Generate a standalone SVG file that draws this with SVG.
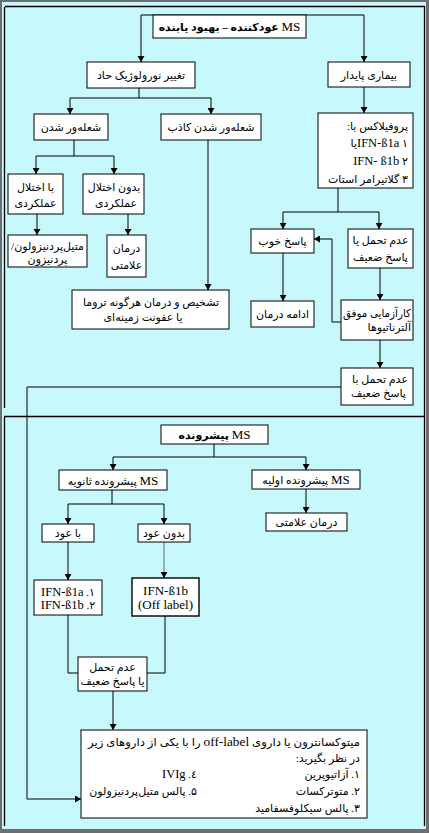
<svg xmlns="http://www.w3.org/2000/svg" width="429" height="833" viewBox="0 0 429 833">
<defs>
<marker id="ah" markerWidth="7" markerHeight="7" refX="6" refY="3.5" orient="auto" markerUnits="userSpaceOnUse">
<path d="M0,0 L6,3.5 L0,7 Z" fill="#000"/>
</marker>
<style>
.frame{fill:none;stroke:#000;stroke-width:1.3}
.box{fill:#fff;stroke:#000;stroke-width:1}
.con{fill:none;stroke:#000;stroke-width:1}
.arr{marker-end:url(#ah)}
text{font-family:"Liberation Serif","DejaVu Sans",serif;font-size:11px;fill:#000;direction:rtl;unicode-bidi:embed}
.c{text-anchor:middle}
.r{text-anchor:start}
.b{font-weight:bold}
.l{font-size:12.5px}
.lt{font-size:13px}
</style>
</defs>
<rect x="0" y="0" width="429" height="833" fill="#6e6e6e"/>
<rect x="2" y="2" width="424" height="827" fill="#c6f8fc"/>
<g id="frame">
<path class="frame" d="M4.5,7 V408 M4.5,417 V826 M5,6.5 H424.5 M424.5,6 V826 M4,416.5 H425"/>
</g>
<g id="connectors">
<path class="con arr" d="M229,15 H141 V62"/>
<path class="con arr" d="M229,15 H364 V62"/>
<path class="con arr" d="M139,88 V98 H70 V114"/>
<path class="con arr" d="M139,98 H211 V114"/>
<path class="con arr" d="M364,87 V113"/>
<path class="con arr" d="M74,140 V156 H36 V174"/>
<path class="con arr" d="M74,156 H114 V174"/>
<path class="con arr" d="M208,140 V290"/>
<path class="con arr" d="M37,214 V235"/>
<path class="con arr" d="M128,214 V235"/>
<path class="con arr" d="M338,188 V212 H283 V229"/>
<path class="con arr" d="M338,212 H379 V229"/>
<path class="con arr" d="M283,253 V301"/>
<path class="con arr" d="M380,268 V300"/>
<path class="con arr" d="M341,322 H332 V239 H314"/>
<path class="con arr" d="M380,340 V368"/>
<path class="con arr" d="M341,387 H27 V799 H81"/>
<path class="con arr" d="M214,444 V457 H113 V470"/>
<path class="con arr" d="M214,457 H306 V470"/>
<path class="con arr" d="M306,489 V513"/>
<path class="con arr" d="M112,490 V504 H68 V524"/>
<path class="con arr" d="M112,504 H164 V524"/>
<path class="con arr" d="M68,542 V580"/>
<path class="con arr" d="M164,542 V578" style="stroke:#666"/>
<path class="con" d="M68,615 V673 H78"/>
<path class="con" d="M165,616 V673 H147"/>
<path class="con arr" d="M113,691 V730"/>
</g>
<g id="n-title"><rect class="box" x="153" y="15" width="153" height="23"/><text class="c b" x="229.5" y="31"><tspan class="lt" font-weight="normal">MS</tspan> عودکننده – بهبود یابنده</text></g>
<g id="n-acute"><rect class="box" x="87" y="62" width="108" height="26"/><text class="c" x="141" y="79">تغییر نورولوژیک حاد</text></g>
<g id="n-stable"><rect class="box" x="328" y="62" width="82" height="25"/><text class="c" x="369" y="79">بیماری پایدار</text></g>
<g id="n-relapse"><rect class="box" x="34" y="114" width="74" height="26"/><text class="c" x="71" y="131">شعله‌ور شدن</text></g>
<g id="n-pseudo"><rect class="box" x="161" y="114" width="100" height="26"/><text class="c" x="211" y="131">شعله‌ور شدن کاذب</text></g>
<g id="n-prophylaxis"><rect class="box" x="318" y="113" width="95" height="75"/>
<text class="r" x="408" y="130">پروفیلاکس با:</text>
<text class="r" x="408" y="147">۱ <tspan class="l">IFN-ß1a</tspan>یا</text>
<text class="r" x="408" y="165">۲ <tspan class="l">IFN- ß1b</tspan></text>
<text class="r" x="408" y="183">۳ گلاتیرامر استات</text></g>
<g id="n-withdef"><rect class="box" x="8" y="174" width="55" height="40"/><text class="c" x="35.5" y="191">با اختلال</text><text class="c" x="35.5" y="207">عملکردی</text></g>
<g id="n-nodef"><rect class="box" x="83" y="174" width="61" height="40"/><text class="c" x="114" y="191">بدون اختلال</text><text class="c" x="116" y="207">عملکردی</text></g>
<g id="n-steroid"><rect class="box" x="8" y="235" width="79" height="32"/><text class="c" x="47.5" y="250">متیل‌پردنیزولون/</text><text class="c" x="47.5" y="263">پردنیزون</text></g>
<g id="n-sympt1"><rect class="box" x="107" y="235" width="39" height="42"/><text class="c" x="126.5" y="252">درمان</text><text class="c" x="126.5" y="269">علامتی</text></g>
<g id="n-diag"><rect class="box" x="72" y="290" width="157" height="39"/><text class="c" x="151" y="306">تشخیص و درمان هرگونه تروما</text><text class="c" x="143" y="321">یا عفونت زمینه‌ای</text></g>
<g id="n-good"><rect class="box" x="251" y="229" width="63" height="24"/><text class="c" x="282.5" y="245">پاسخ خوب</text></g>
<g id="n-intol1"><rect class="box" x="348" y="229" width="65" height="39"/><text class="c" x="380.5" y="244">عدم تحمل یا</text><text class="c" x="380.5" y="261">پاسخ ضعیف</text></g>
<g id="n-continue"><rect class="box" x="251" y="301" width="63" height="26"/><text class="c" x="282.5" y="318">ادامه درمان</text></g>
<g id="n-alt"><rect class="box" x="341" y="300" width="72" height="40"/><text class="r" x="411" y="317" textLength="68" lengthAdjust="spacingAndGlyphs">کارآزمایی موفق</text><text class="r" x="411" y="331">آلترناتیوها</text></g>
<g id="n-intol2"><rect class="box" x="341" y="368" width="72" height="37"/><text class="c" x="380" y="383">عدم تحمل با</text><text class="c" x="378.5" y="397">پاسخ ضعیف</text></g>
<g id="n-prog"><rect class="box" x="161" y="425" width="107" height="19"/><text class="c b" x="214.5" y="439"><tspan class="lt" font-weight="normal">MS</tspan> پیشرونده</text></g>
<g id="n-secondary"><rect class="box" x="59" y="470" width="108" height="20"/><text class="c" x="113" y="484.5"><tspan class="lt">MS</tspan> پیشرونده ثانویه</text></g>
<g id="n-primary"><rect class="box" x="252" y="470" width="108" height="19"/><text class="c" x="306" y="484"><tspan class="lt">MS</tspan> پیشرونده اولیه</text></g>
<g id="n-sympt2"><rect class="box" x="266" y="513" width="81" height="18"/><text class="c" x="306.5" y="526">درمان علامتی</text></g>
<g id="n-withrel"><rect class="box" x="42" y="524" width="52" height="18"/><text class="c" x="68" y="537">با عود</text></g>
<g id="n-norel"><rect class="box" x="138" y="524" width="52" height="18"/><text class="c" x="164" y="537">بدون عود</text></g>
<g id="n-ifn1"><rect class="box" x="34" y="580" width="68" height="35"/><text class="c" x="68" y="596">۱. <tspan class="l">IFN-ß1a</tspan></text><text class="c" x="68" y="609">۲. <tspan class="l">IFN-ß1b</tspan></text></g>
<g id="n-ifn2"><rect class="box" x="132" y="578" width="67" height="38" style="stroke-width:1.4"/><text class="c lt" x="165.5" y="595">IFN-ß1b</text><text class="c lt" x="165.5" y="609">(Off label)</text></g>
<g id="n-intol3"><rect class="box" x="78" y="657" width="69" height="34"/><text class="c" x="112.5" y="671">عدم تحمل</text><text class="c" x="112.5" y="685">یا پاسخ ضعیف</text></g>
<g id="n-final"><rect class="box" x="81" y="730" width="286" height="88"/>
<text class="r" x="360" y="746" textLength="272" lengthAdjust="spacingAndGlyphs">میتوکسانترون یا داروی <tspan class="l">off-label</tspan> را با یکی از داروهای زیر</text>
<text class="r" x="360" y="762">در نظر بگیرید:</text>
<text class="r" x="360" y="778">۱. آزاتیوپرین</text>
<text class="r" x="197" y="778">٤. <tspan class="l">IVIg</tspan></text>
<text class="r" x="360" y="795">۲. متوترکسات</text>
<text class="r" x="197" y="795">۵. پالس متیل‌پردنیزولون</text>
<text class="r" x="360" y="812">۳. پالس سیکلوفسفامید</text></g>
</svg>
